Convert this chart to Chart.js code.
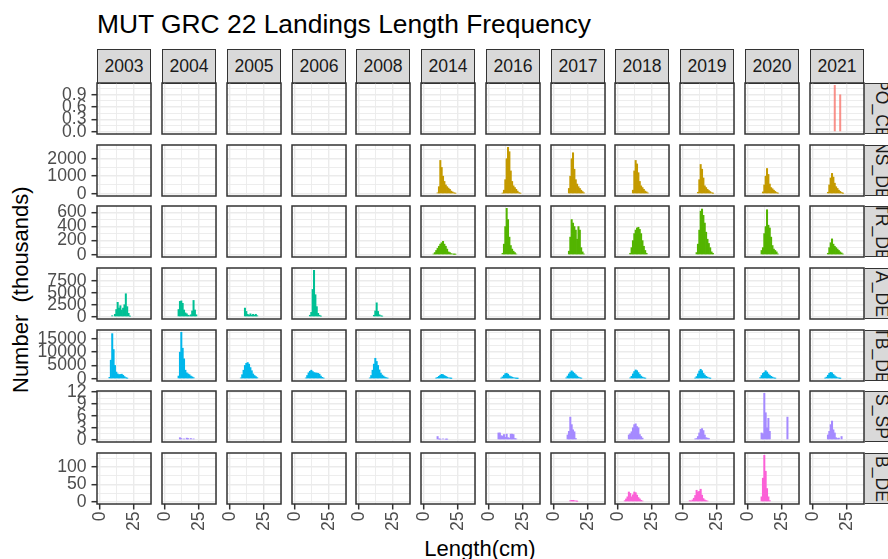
<!DOCTYPE html>
<html>
<head>
<meta charset="utf-8">
<script src="https://cdn.jsdelivr.net/npm/chart.js@4.4.1/dist/chart.umd.min.js"></script>
<style>
body{margin:0;background:#fff;}
#wrap{position:relative;width:888px;height:559px;overflow:hidden;background:#fff;font-family:"Liberation Sans",Arial,sans-serif;}
#wrap canvas{position:absolute;}
.strip{position:absolute;box-sizing:border-box;background:#d9d9d9;border:1.5px solid #333;color:#1a1a1a;font-size:17.6px;display:flex;align-items:center;justify-content:center;overflow:hidden;white-space:nowrap;}
.rstrip{writing-mode:vertical-rl;}
.txt{position:absolute;white-space:pre;color:#000;line-height:1;}
</style>
</head>
<body>
<div id="wrap">
  <div class="txt" style="left:97px;top:11px;font-size:26.4px;">MUT GRC 22 Landings Length Frequency</div>
  <div class="txt" style="left:380px;top:538px;width:200px;text-align:center;font-size:22px;">Length(cm)</div>
  <div class="txt" style="left:-79px;top:282px;width:200px;text-align:center;font-size:22px;transform:rotate(-90deg);">Number  (thousands)</div>
</div>
<script>
// ===== DATA =====
const years = ["2003","2004","2005","2006","2008","2014","2016","2017","2018","2019","2020","2021"];
const fleets = ["PO_CE","NS_DE","TR_DE","A_DE","TB_DE","S_SP","B_DE"];
const fleetColors = ["rgba(248,118,109,0.8)","#C49A00","#53B400","#00C094","#00B6EB","#A58AFF","#FB61D7"];

const xTicks = [0, 25];
const xTickLabels = ["0", "25"];
const yTicks = [[0,0.3,0.6,0.9],[0,1000,2000],[0,200,400,600],[0,2500,5000,7500],[0,5000,10000,15000],[0,3,6,9,12],[0,50,100]];
const yTickLabels = [["0.0","0.3","0.6","0.9"],["0","1000","2000"],["0","200","400","600"],["0","2500","5000","7500"],["0","5000","10000","15000"],["0","3","6","9","12"],["0","50","100"]];

// [year, first length class (cm), numbers (thousands) per 1 cm class]
const poCe = [["2021",16,[1.13,0,0,0,0.9]]];
const nsDe = [
  ["2014",10,[50,400,1900,1500,1000,700,500,400,320,250,150,100,50,20]],
  ["2016",10,[30,200,800,2000,2650,2400,1300,700,450,350,250,150,60,20]],
  ["2017",11,[300,1000,2000,2340,1400,800,550,400,300,200,120,50]],
  ["2018",11,[200,1300,1900,1700,1200,700,450,350,250,150,100,40]],
  ["2019",11,[80,800,1670,1400,900,450,350,250,180,120,60,20]],
  ["2020",11,[100,500,1000,1440,1100,550,350,280,200,130,70,30]],
  ["2021",11,[80,500,900,1160,950,600,400,300,200,130,70,20]]
];
const trDe = [
  ["2014",7,[10,30,60,90,120,150,170,190,150,120,80,40,30,15,10,5,5]],
  ["2016",10,[20,150,400,660,500,250,130,80,50,30,10]],
  ["2017",11,[50,250,500,450,400,350,220,400,350,100,40,10]],
  ["2018",9,[20,100,200,300,350,380,390,360,300,200,120,60,20]],
  ["2019",10,[30,150,350,620,650,560,450,320,220,160,100,40,20]],
  ["2020",10,[60,100,300,400,640,420,380,250,130,80,60,40,10]],
  ["2021",11,[20,100,170,225,150,120,100,80,60,40,25,10]]
];
const aDe = [
  ["2003",9,[200,0,500,1500,3000,1800,2300,1400,1800,2500,4800,2100,700,100]],
  ["2004",10,[1500,3200,3300,2800,1400,800,600,300,200,400,1200,3400,1400,400]],
  ["2005",11,[1800,1100,500,300,600,300,500,300,500,200]],
  ["2006",11,[300,900,5700,9700,4600,2100,700,300,100]],
  ["2008",11,[300,1200,2900,1100,400,200,100]]
];
const tbDe = [
  ["2003",7,[500,7000,17000,11000,5000,2500,1800,1500,1600,1700,1300,800,400,150]],
  ["2004",10,[1000,10000,17500,11500,7500,3200,2200,1800,1500,1000,700,400]],
  ["2005",8,[300,1500,3200,5000,5800,6100,5500,4200,3000,1800,1200,800,400]],
  ["2006",8,[300,1200,2200,2800,3200,2700,2300,2200,2100,2000,1700,1000,500,200]],
  ["2008",8,[300,1200,3200,5500,7700,6500,5000,3300,2100,1400,1000,600,400,200]],
  ["2014",9,[200,500,900,1300,1650,1500,1200,900,600,350,200,80]],
  ["2016",9,[200,700,1300,1900,2050,1700,1100,800,600,400,250,100,40]],
  ["2017",9,[300,1000,1800,2450,2950,2500,2000,1500,1000,600,350,150]],
  ["2018",9,[300,900,1800,2700,3300,3000,2300,1600,1000,600,350,150]],
  ["2019",9,[200,800,1800,2900,3550,3000,2000,1400,900,600,300,100]],
  ["2020",9,[400,1200,2000,2400,3000,2500,1800,1300,900,600,300,150]],
  ["2021",9,[200,600,1300,2000,2400,2200,1600,1100,700,400,200,80]]
];
const sSp = [
  ["2004",11,[0.5,0.3,0,0.2,0,0.4,0.3,0,0.3,0,0.2]],
  ["2014",10,[0.8,0.2,0.1,0,0.2,0,0.1,0.1]],
  ["2016",7,[1.7,1.7,1.0,0.9,1.3,0.6,1.4,0.5,0.4,1.4,1.4,1.3,0.3,0.2]],
  ["2017",10,[1.2,2.1,5.7,3.8,2.5,2.0,0.3]],
  ["2018",8,[1.2,1.5,2.0,3.0,3.8,4.0,3.3,3.0,1.3,0.8,0.4]],
  ["2019",9,[0.2,0.3,0.8,1.7,2.6,2.8,2.3,1.2,0.5,0.4,0.3]],
  ["2020",10,[1.7,1.5,11.7,6.8,3.0,5.4,2.1,0,0,0,0,0,0,0,0,0,0,0,0,5.7]],
  ["2021",11,[1.2,2.1,3.8,4.7,2.5,1.7,0.5,0.3,0.4,0,0.8]]
];
const bDe = [
  ["2017",12,[3,4,4,3,2,1]],
  ["2018",5,[3,8,14,28,24,14,20,28,26,19,12,8,4,2]],
  ["2019",5,[3,2,5,10,18,33,28,30,36,19,9,5,3,2]],
  ["2020",10,[14,68,134,88,38,14,3]]
];
const rows = [poCe, nsDe, trDe, aDe, tbDe, sSp, bDe];

// ===== LAYOUT =====
const FONT = '"Liberation Sans", Arial, sans-serif';
Chart.defaults.font.family = FONT;
const AXW = 62, AXH = 48, PADT = 14, PADR = 3, PW = 54, PH = 51;
const colLeft = i => Math.round(97.4 + i * 64.75);
const rowTop = j => Math.round(83 + j * 61.67);
const wrap = document.getElementById('wrap');

const panelBorder = {
  id: 'panelBorder',
  afterDraw(c) {
    const a = c.chartArea, x = c.ctx;
    x.save(); x.strokeStyle = '#333'; x.lineWidth = 1.5;
    x.strokeRect(a.left, a.top, a.right - a.left, a.bottom - a.top);
    x.restore();
  }
};

function withMinor(majors, lo, hi) {
  const step = majors[1] - majors[0];
  return majors.concat(majors.map(v => v + step / 2)).filter(v => v >= lo && v <= hi).sort((a, b) => a - b);
}

// strips on top
years.forEach((yr, c) => {
  const d = document.createElement('div');
  d.className = 'strip';
  d.style.cssText = `left:${colLeft(c)}px;top:49px;width:${PW}px;height:35px;`;
  d.textContent = yr;
  wrap.appendChild(d);
});

rows.forEach((rowData, r) => {
  const D = Math.max(...rowData.flatMap(e => e[2]));
  const yMin = -0.05 * D, yMax = 1.05 * D;
  const majors = yTicks[r], labels = yTickLabels[r];
  const yAll = withMinor(majors, yMin, yMax);
  const xAll = withMinor(xTicks, -2.2, 37.5);

  // strip on the right
  const s = document.createElement('div');
  s.className = 'strip rstrip';
  s.style.cssText = `left:${colLeft(11) + PW}px;top:${rowTop(r)}px;width:35px;height:${PH}px;`;
  s.textContent = fleets[r];
  wrap.appendChild(s);

  years.forEach((yr, c) => {
    const left = c === 0, bottom = r === rows.length - 1;
    const entry = rowData.find(e => e[0] === yr);
    // empty classes stay in the data (as null) so every bar keeps the 1 cm width
    const pts = entry ? entry[2].map((v, k) => ({ x: entry[1] + k, y: v > 0 ? v : null })) : [];
    const cv = document.createElement('canvas');
    cv.width = AXW + PW + PADR; cv.height = PADT + PH + AXH;
    cv.style.left = (colLeft(c) - AXW) + 'px';
    cv.style.top = (rowTop(r) - PADT) + 'px';
    wrap.appendChild(cv);

    new Chart(cv, {
      type: 'bar',
      data: { datasets: [{ data: pts, backgroundColor: fleetColors[r], borderWidth: 0,
        barPercentage: 1, categoryPercentage: 1 }] },
      options: {
        responsive: false, animation: false, events: [], devicePixelRatio: 1,
        layout: { padding: { top: PADT, right: PADR, left: 0, bottom: 0 } },
        plugins: { legend: { display: false }, tooltip: { enabled: false } },
        scales: {
          x: {
            type: 'linear', min: -2.2, max: 37.5, offset: false,
            afterBuildTicks: sc => { sc.ticks = xAll.map(v => ({ value: v })); },
            afterFit: sc => { sc.height = AXH; sc.paddingLeft = 0; sc.paddingRight = 0; },
            ticks: { display: bottom, autoSkip: false, minRotation: 90, maxRotation: 90, padding: 2,
              color: '#4D4D4D', font: { size: 17.6 },
              callback: v => { const k = xTicks.indexOf(v); return k >= 0 ? xTickLabels[k] : ''; } },
            grid: { offset: false, drawTicks: bottom, tickLength: 5.5,
              color: '#EBEBEB',
              lineWidth: ctx => xTicks.includes(ctx.tick && ctx.tick.value) ? 1.4 : 0.9,
              tickColor: ctx => xTicks.includes(ctx.tick && ctx.tick.value) ? '#333' : 'rgba(0,0,0,0)',
              tickWidth: 1.5 },
            border: { display: false }
          },
          y: {
            min: yMin, max: yMax,
            afterBuildTicks: sc => { sc.ticks = yAll.map(v => ({ value: v })); },
            afterFit: sc => { sc.width = AXW; sc.paddingTop = 0; sc.paddingBottom = 0; },
            ticks: { display: left, autoSkip: false, padding: 5,
              color: '#4D4D4D', font: { size: 17.6 },
              callback: v => { const k = majors.indexOf(v); return k >= 0 ? labels[k] : ''; } },
            grid: { drawTicks: left, tickLength: 5.5,
              color: '#EBEBEB',
              lineWidth: ctx => majors.includes(ctx.tick && ctx.tick.value) ? 1.4 : 0.9,
              tickColor: ctx => majors.includes(ctx.tick && ctx.tick.value) ? '#333' : 'rgba(0,0,0,0)',
              tickWidth: 1.5 },
            border: { display: false }
          }
        }
      },
      plugins: [panelBorder]
    });
  });
});
</script>
</body>
</html>
